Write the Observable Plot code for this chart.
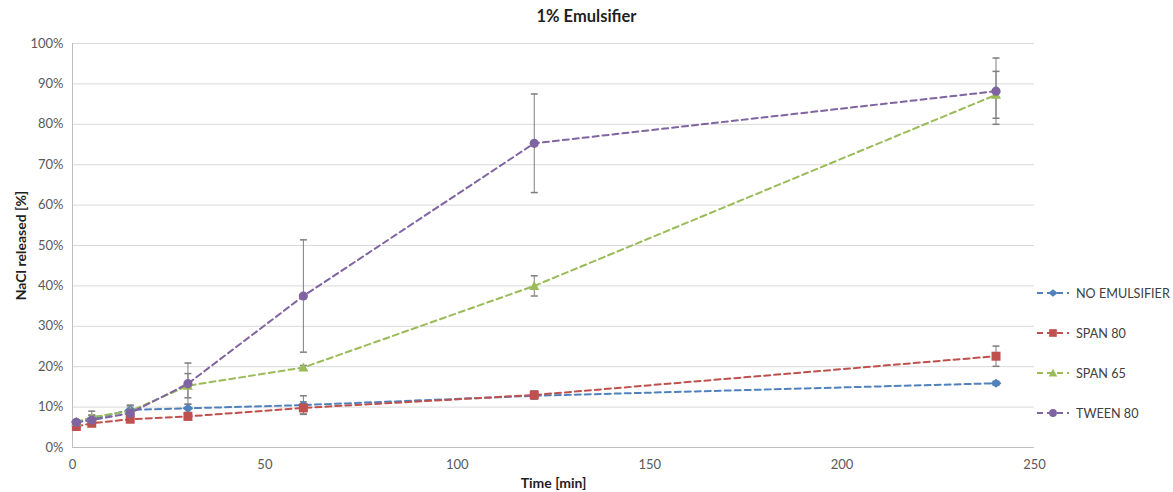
<!DOCTYPE html>
<html><head><meta charset="utf-8">
<script src="https://cdn.jsdelivr.net/npm/d3@7"></script>
<script src="https://cdn.jsdelivr.net/npm/@observablehq/plot@0.6"></script>
<style>
body{margin:0;background:#fff;font-family:Lato,"Open Sans",sans-serif;}
#wrap{position:relative;width:1173px;height:492px;}
#title{position:absolute;left:0;width:1173px;top:6px;text-align:center;font-weight:bold;font-size:16.5px;color:#1f1f1f;}
#legend{position:absolute;left:1036px;top:273px;}
.item{display:flex;align-items:center;height:40px;font-size:12.6px;color:#404040;}
.item svg{margin-right:6px;}
g[aria-label="x-axis label"] text, g[aria-label="y-axis label"] text{font-weight:bold;fill:#1f1f1f;font-size:14px;}
</style>
</head><body>
<div id="wrap"><div id="title">1% Emulsifier</div><div id="legend"></div></div>
<script>
const times = [1, 5, 15, 30, 60, 120, 240];
const seriesNames = ["NO EMULSIFIER", "SPAN 80", "SPAN 65", "TWEEN 80"];
const noEmulsifier = [6.4, 7.0, 9.3, 9.7, 10.5, 12.8, 15.9];
const span80 = [5.2, 6.0, 7.0, 7.7, 9.8, 13.0, 22.6];
const span65 = [6.3, 7.5, 9.0, 15.3, 19.8, 40.0, 87.3];
const tween80 = [6.2, 6.8, 8.5, 15.8, 37.5, 75.3, 88.2];
const errNoEmulsifier = [0.5, 1.0, 1.0, 1.0, 2.3, 0.8, 0.5];
const errSpan80 = [0.5, 0.5, 0.5, 0.8, 1.5, 1.0, 2.5];
const errSpan65 = [0.5, 1.5, 1.5, 3.0, 0.5, 2.5, 5.8];
const errTween80 = [0.5, 1.2, 1.2, 5.1, 13.9, 12.2, 8.2];
const yTicks = [0, 10, 20, 30, 40, 50, 60, 70, 80, 90, 100];
const xTicks = [0, 50, 100, 150, 200, 250];
const colors = ["#4F81BD", "#C0504D", "#9BBB59", "#8064A2"];

const vals = [noEmulsifier, span80, span65, tween80];
const errs = [errNoEmulsifier, errSpan80, errSpan65, errTween80];
const data = seriesNames.flatMap((s, i) => times.map((t, j) => ({series: s, time: t, value: vals[i][j], err: errs[i][j]})));

const cap = {draw(ctx) { ctx.moveTo(-3.5, 0); ctx.lineTo(3.5, 0); }};
const wideDiamond = {draw(ctx) { ctx.moveTo(-5.5, 0); ctx.lineTo(0, -4.5); ctx.lineTo(5.5, 0); ctx.lineTo(0, 4.5); ctx.closePath(); }};
const squareSym = {draw(ctx) { ctx.rect(-4.5, -4.5, 9, 9); }};
const triSym = {draw(ctx) { ctx.moveTo(0, -5); ctx.lineTo(5, 4); ctx.lineTo(-5, 4); ctx.closePath(); }};
const circSym = {draw(ctx) { ctx.moveTo(4.6, 0); ctx.arc(0, 0, 4.6, 0, 2 * Math.PI); }};
const symbols = [wideDiamond, squareSym, triSym, circSym];

const chart = Plot.plot({
  width: 1173, height: 492,
  marginLeft: 72, marginRight: 139, marginTop: 43, marginBottom: 45,
  style: {fontFamily: "Lato, 'Open Sans', sans-serif", fontSize: "13px", color: "#595959", background: "white"},
  x: {domain: [0, 250], ticks: xTicks, tickSize: 0, tickPadding: 12, label: "Time [min]", labelAnchor: "center", labelArrow: "none", labelOffset: 40},
  y: {domain: [0, 100], ticks: yTicks, tickSize: 0, tickPadding: 9, tickFormat: d => d + "%", label: "NaCl released [%]", labelAnchor: "center", labelArrow: "none", labelOffset: 56},
  color: {domain: seriesNames, range: colors},
  symbol: {domain: seriesNames, range: symbols},
  marks: [
    Plot.gridY(yTicks, {stroke: "#d9d9d9", strokeOpacity: 1}),
    Plot.ruleX([0], {stroke: "#bfbfbf"}),
    Plot.ruleY([0], {stroke: "#bfbfbf"}),
    Plot.line(data, {x: "time", y: "value", z: "series", stroke: "series", strokeWidth: 2, strokeDasharray: "6,4"}),
    Plot.ruleX(data, {x: "time", y1: d => d.value - d.err, y2: d => d.value + d.err, stroke: "#7f7f7f", strokeWidth: 1}),
    Plot.dot(data, {x: "time", y: d => d.value + d.err, symbol: cap, r: 3, stroke: "#7f7f7f", fill: "none"}),
    Plot.dot(data, {x: "time", y: d => d.value - d.err, symbol: cap, r: 3, stroke: "#7f7f7f", fill: "none"}),
    Plot.dot(data, {x: "time", y: "value", symbol: "series", fill: "series", r: 4.8, stroke: "none"})
  ]
});
document.getElementById("wrap").prepend(chart);

const legend = d3.select("#legend");
seriesNames.forEach((s, i) => {
  const item = legend.append("div").attr("class", "item");
  const svg = item.append("svg").attr("width", 34).attr("height", 14);
  svg.append("line").attr("x1", 1).attr("x2", 33).attr("y1", 7).attr("y2", 7)
    .attr("stroke", colors[i]).attr("stroke-width", 2).attr("stroke-dasharray", "6,4");
  const p = d3.path();
  symbols[i].draw(p);
  svg.append("path").attr("transform", "translate(17,7) scale(0.85)").attr("d", p.toString()).attr("fill", colors[i]);
  item.append("span").text(s);
});
</script>
</body></html>
